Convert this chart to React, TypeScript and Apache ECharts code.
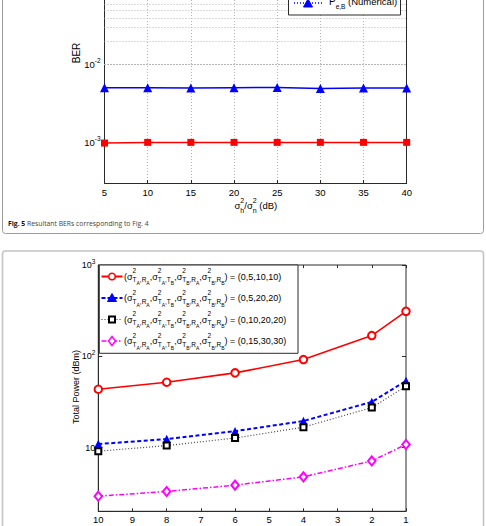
import React, { useEffect, useRef } from 'react';
import * as echarts from 'echarts';

// ---------- data ----------
const berSnr = [5, 10, 15, 20, 25, 30, 35, 40];
const berA = [0.00098, 0.001, 0.001, 0.001, 0.001, 0.001, 0.001, 0.001];
const berB = [0.00505, 0.00505, 0.005, 0.00505, 0.0051, 0.00495, 0.005, 0.005];
const gridDecades = [1e-4, 1e-3, 1e-2, 1e-1];
const gridMantissas = [1, 2, 3, 4, 5, 6, 7, 8, 9];

const berLevels = [10, 8, 6, 4, 2, 1];
const powerSet1 = [43.5, 51.9, 65.7, 92, 168.6, 311];
const powerSet2 = [10.9, 12.4, 15.1, 19.5, 31.6, 53.7];
const powerSet3 = [9.1, 10.5, 12.7, 16.7, 27.4, 46.9];
const powerSet4 = [2.93, 3.3, 3.87, 4.77, 7.13, 10.8];
const legendTuples = ['(0,5,10,10)', '(0,5,20,20)', '(0,10,20,20)', '(0,15,30,30)'];

const FONT = '"Liberation Sans", Arial, Helvetica, sans-serif';
const CAPFONT = '"Open Sans", "Noto Sans", sans-serif';
const AXIS = '#2a2a2a';
const BER_MIN = 3e-4;
const BER_MAX = 0.068;

let measureCtx: CanvasRenderingContext2D | null = null;
function textWidth(t: string, size: number, weight = 'normal', family = FONT) {
  if (!measureCtx) measureCtx = document.createElement('canvas').getContext('2d');
  measureCtx!.font = `${weight} ${size}px ${family}`;
  return measureCtx!.measureText(t).width;
}
type Part = { t: string; s: number; dy?: number; adv?: boolean; w?: string; fill?: string; fam?: string };
function textRun(x0: number, y0: number, parts: Part[], fill = '#000', z = 100) {
  let x = x0;
  const out: any[] = [];
  for (const p of parts) {
    out.push({
      type: 'text', x, y: y0 + (p.dy || 0), z, silent: true,
      style: {
        text: p.t, fontSize: p.s, fontFamily: p.fam || FONT, fontWeight: p.w || 'normal',
        fill: p.fill || fill, align: 'left', verticalAlign: 'middle', textAlign: 'left', textVerticalAlign: 'middle',
      },
    });
    if (p.adv !== false) x += textWidth(p.t, p.s, p.w || 'normal', p.fam || FONT);
  }
  return out;
}
function sigmaGroup(a: string, b: string, c: string, d: string): Part[] {
  return [
    { t: 'σ', s: 9 },
    { t: '2', s: 6.5, dy: -6, adv: false },
    { t: a, s: 6.5, dy: 3 },
    { t: b, s: 5, dy: 6.5 },
    { t: ',', s: 6.5, dy: 3 },
    { t: c, s: 6.5, dy: 3 },
    { t: d, s: 5, dy: 6.5 },
  ];
}
function legendParts(tuple: string): Part[] {
  return [
    { t: '(', s: 9 },
    ...sigmaGroup('T', 'A', 'R', 'A'), { t: ',', s: 9 },
    ...sigmaGroup('T', 'A', 'T', 'B'), { t: ',', s: 9 },
    ...sigmaGroup('T', 'B', 'R', 'A'), { t: ',', s: 9 },
    ...sigmaGroup('T', 'B', 'R', 'B'),
    { t: ') = ' + tuple, s: 9 },
  ];
}

function logLabel(v: number) {
  const e = Math.log10(v);
  const r = Math.round(e);
  if (Math.abs(e - r) > 1e-6) return '';
  if (r === 1) return '10';
  return `10{sup|${r}}`;
}

export default function App() {
  const ref = useRef<HTMLDivElement>(null);
  useEffect(() => {
    if (!ref.current) return;
    const chart = echarts.init(ref.current, undefined, { renderer: 'svg' });

    const berGridLines: number[] = [];
    gridDecades.forEach((d) => gridMantissas.forEach((m) => {
      const v = d * m;
      if (v >= BER_MIN - 1e-12 && v <= BER_MAX) berGridLines.push(v);
    }));

    const rowY = [276.5, 298, 319.5, 341];
    const legendStyles = [
      { color: '#ff0000', dash: null as any, width: 2 },
      { color: '#0000ff', dash: [4, 2], width: 2 },
      { color: '#333333', dash: [1, 2], width: 1.2 },
      { color: '#ff00ff', dash: [5, 2, 1.5, 2], width: 1.5 },
    ];

    const graphic: any[] = [
      // panel frames
      { type: 'rect', z: 1, silent: true, shape: { x: 2.5, y: -20, width: 481, height: 253.5, r: 3 }, style: { fill: 'none', stroke: '#9c9c9c', lineWidth: 1 } },
      { type: 'rect', z: 1, silent: true, shape: { x: 2.5, y: 251, width: 481, height: 320, r: 3 }, style: { fill: 'none', stroke: '#c4c4c4', lineWidth: 1.6 } },
      // caption
      ...textRun(8, 223.5, [
        { t: 'Fig. 5', s: 6.8, w: 'bold', fam: CAPFONT, fill: '#111' },
        { t: ' Resultant BERs corresponding to Fig. 4', s: 6.8, fam: CAPFONT, fill: '#444' },
      ]),
      // top chart labels
      { type: 'text', x: 76, y: 53, rotation: Math.PI / 2, z: 100, silent: true, style: { text: 'BER', fontSize: 10, fontFamily: FONT, fill: '#000', align: 'center', verticalAlign: 'middle', textAlign: 'center', textVerticalAlign: 'middle' } },
      ...textRun(234.5, 205.5, [
        { t: 'σ', s: 9.5 }, { t: '2', s: 7, dy: -5.5, adv: false }, { t: 'h', s: 7, dy: 4.5 },
        { t: '/', s: 9.5 },
        { t: 'σ', s: 9.5 }, { t: '2', s: 7, dy: -5.5, adv: false }, { t: 'n', s: 7, dy: 4.5 },
        { t: ' (dB)', s: 9.5 },
      ]),
      // top legend (only its last entry is on the page)
      { type: 'rect', z: 90, silent: true, shape: { x: 288.5, y: -40, width: 112, height: 55 }, style: { fill: '#fff', stroke: AXIS, lineWidth: 1 } },
      { type: 'line', z: 95, silent: true, shape: { x1: 294, y1: 3, x2: 322, y2: 3 }, style: { stroke: '#0000ff', lineWidth: 1.5, lineDash: [1, 2] } },
      { type: 'polygon', z: 96, silent: true, shape: { points: [[308, -1], [312.5, 7], [303.5, 7]] }, style: { fill: '#0000ff', stroke: '#0000ff' } },
      ...textRun(329, 1.5, [
        { t: 'P', s: 10 }, { t: 'e,B', s: 6.5, dy: 5 }, { t: ' (Numerical)', s: 9.5 },
      ]),
      // bottom chart labels
      { type: 'text', x: 76, y: 387, rotation: Math.PI / 2, z: 100, silent: true, style: { text: 'Total Power (dBm)', fontSize: 9, fontFamily: FONT, fill: '#000', align: 'center', verticalAlign: 'middle', textAlign: 'center', textVerticalAlign: 'middle' } },
      ...textRun(231, 529.5, [
        { t: 'BER (S', s: 9.5 }, { t: 'A', s: 6.5, dy: 4 }, { t: 'S', s: 9.5 }, { t: 'B', s: 6.5, dy: 4 }, { t: ')', s: 9.5 },
      ]),
      // bottom legend box
      { type: 'rect', z: 90, silent: true, shape: { x: 99.3, y: 265, width: 198.7, height: 88.3 }, style: { fill: '#fff', stroke: AXIS, lineWidth: 1 } },
    ];

    legendTuples.forEach((tuple, i) => {
      const y = rowY[i];
      const st = legendStyles[i];
      graphic.push({ type: 'line', z: 95, silent: true, shape: { x1: 101.5, y1: y, x2: 122.5, y2: y }, style: { stroke: st.color, lineWidth: st.width, lineDash: st.dash } });
      if (i === 0) graphic.push({ type: 'circle', z: 96, silent: true, shape: { cx: 112, cy: y, r: 3.3 }, style: { fill: '#fff', stroke: st.color, lineWidth: 1.5 } });
      if (i === 1) graphic.push({ type: 'polygon', z: 96, silent: true, shape: { points: [[112, y - 4.5], [116.5, y + 3.5], [107.5, y + 3.5]] }, style: { fill: '#0000ff', stroke: '#0000ff', lineWidth: 1 } });
      if (i === 2) graphic.push({ type: 'rect', z: 96, silent: true, shape: { x: 109, y: y - 3, width: 6, height: 6 }, style: { fill: '#fff', stroke: '#000', lineWidth: 2 } });
      if (i === 3) graphic.push({ type: 'polygon', z: 96, silent: true, shape: { points: [[112, y - 4.5], [115.5, y], [112, y + 4.5], [108.5, y]] }, style: { fill: '#fff', stroke: '#ff00ff', lineWidth: 1.5 } });
      graphic.push(...textRun(124, y, legendParts(tuple)));
    });

    const supRich = {
      sup: { fontSize: 6.5, fontFamily: FONT, color: '#000', padding: [0, 0, 8, 0] },
    };

    const option: any = {
      animation: false,
      backgroundColor: '#fff',
      grid: [
        { left: 104.5, top: 0, width: 302.2, height: 183, show: false },
        { left: 98.3, top: 265, width: 307.7, height: 246.3, show: true, borderColor: AXIS, borderWidth: 1, backgroundColor: 'transparent' },
      ],
      xAxis: [
        {
          gridIndex: 0, type: 'value', min: 5, max: 40, interval: 5,
          axisLine: { show: true, lineStyle: { color: AXIS } },
          axisTick: { show: true, inside: true, length: 3, lineStyle: { color: AXIS } },
          axisLabel: { fontSize: 9.5, fontFamily: FONT, color: '#000', margin: 4 },
          splitLine: { show: true, lineStyle: { color: '#b4b4b4', type: [1, 2], width: 1 } },
        },
        {
          gridIndex: 1, type: 'value', min: 1, max: 10, interval: 1, inverse: true,
          axisLine: { show: true, lineStyle: { color: AXIS } },
          axisTick: { show: true, inside: true, length: 3, lineStyle: { color: AXIS } },
          axisLabel: { fontSize: 9.5, fontFamily: FONT, color: '#000', margin: 3 },
          splitLine: { show: false },
        },
        {
          gridIndex: 1, type: 'value', position: 'top', min: 1, max: 10, interval: 1, inverse: true,
          axisLine: { show: false },
          axisTick: { show: true, inside: true, length: 3, lineStyle: { color: AXIS } },
          axisLabel: { show: false },
          splitLine: { show: false },
        },
      ],
      yAxis: [
        {
          gridIndex: 0, type: 'log', logBase: 10, min: BER_MIN, max: BER_MAX,
          axisLine: { show: true, lineStyle: { color: AXIS } },
          axisTick: { show: false },
          axisLabel: { fontSize: 9.5, fontFamily: FONT, color: '#000', margin: 4, formatter: logLabel, rich: supRich },
          splitLine: { show: false },
        },
        {
          gridIndex: 1, type: 'log', logBase: 10, min: 2, max: 1000,
          axisLine: { show: true, lineStyle: { color: AXIS } },
          axisTick: { show: true, inside: true, length: 4, lineStyle: { color: AXIS } },
          axisLabel: { fontSize: 9, fontFamily: FONT, color: '#000', margin: 3, formatter: logLabel, rich: supRich },
          splitLine: { show: false },
        },
        {
          gridIndex: 1, type: 'log', logBase: 10, min: 2, max: 1000, position: 'right',
          axisLine: { show: false },
          axisTick: { show: true, inside: true, length: 4, lineStyle: { color: AXIS } },
          axisLabel: { show: false },
          splitLine: { show: false },
        },
        {
          gridIndex: 0, type: 'log', logBase: 10, min: BER_MIN, max: BER_MAX, position: 'right',
          axisLine: { show: true, lineStyle: { color: AXIS } },
          axisTick: { show: false },
          axisLabel: { show: false },
          splitLine: { show: false },
        },
      ],
      series: [
        {
          type: 'line', xAxisIndex: 0, yAxisIndex: 0, z: 1, silent: true,
          data: [[berSnr[0], berA[0]]], showSymbol: false, lineStyle: { opacity: 0 },
          markLine: {
            silent: true, symbol: ['none', 'none'], label: { show: false },
            lineStyle: { color: '#b4b4b4', type: [1, 2], width: 1 },
            data: berGridLines.map((v) => ({ yAxis: v })),
          },
        },
        {
          name: 'Pe,A', type: 'line', xAxisIndex: 0, yAxisIndex: 0, z: 3,
          data: berSnr.map((x, i) => [x, berA[i]]),
          symbol: 'rect', symbolSize: 7,
          lineStyle: { color: '#ff0000', width: 1.5 },
          itemStyle: { color: '#ff0000' },
        },
        {
          name: 'Pe,B', type: 'line', xAxisIndex: 0, yAxisIndex: 0, z: 3,
          data: berSnr.map((x, i) => [x, berB[i]]),
          symbol: 'triangle', symbolSize: 9,
          lineStyle: { color: '#0000ff', width: 1.5 },
          itemStyle: { color: '#0000ff' },
        },
        {
          name: legendTuples[0], type: 'line', xAxisIndex: 1, yAxisIndex: 1, z: 3,
          data: berLevels.map((x, i) => [x, powerSet1[i]]),
          symbol: 'emptyCircle', symbolSize: 7.5,
          lineStyle: { color: '#ff0000', width: 1.6 },
          itemStyle: { color: '#ff0000', borderColor: '#ff0000', borderWidth: 1.5 },
        },
        {
          name: legendTuples[1], type: 'line', xAxisIndex: 1, yAxisIndex: 1, z: 3,
          data: berLevels.map((x, i) => [x, powerSet2[i]]),
          symbol: 'triangle', symbolSize: 8.5,
          lineStyle: { color: '#0000ff', width: 2, type: [4, 2.5] },
          itemStyle: { color: '#0000ff' },
        },
        {
          name: legendTuples[2], type: 'line', xAxisIndex: 1, yAxisIndex: 1, z: 3,
          data: berLevels.map((x, i) => [x, powerSet3[i]]),
          symbol: 'emptyRect', symbolSize: 6,
          lineStyle: { color: '#444444', width: 1.2, type: [1, 2] },
          itemStyle: { color: '#000', borderColor: '#000', borderWidth: 2 },
        },
        {
          name: legendTuples[3], type: 'line', xAxisIndex: 1, yAxisIndex: 1, z: 3,
          data: berLevels.map((x, i) => [x, powerSet4[i]]),
          symbol: 'emptyDiamond', symbolSize: [7.5, 9],
          lineStyle: { color: '#ff00ff', width: 1.5, type: [5, 2, 1.5, 2] },
          itemStyle: { color: '#ff00ff', borderColor: '#ff00ff', borderWidth: 1.5 },
        },
      ],
      graphic,
    };
    chart.setOption(option);
    return () => chart.dispose();
  }, []);
  return <div ref={ref} style={{ position: 'fixed', left: 0, top: 0, width: 486, height: 526, background: '#fff' }} />;
}
